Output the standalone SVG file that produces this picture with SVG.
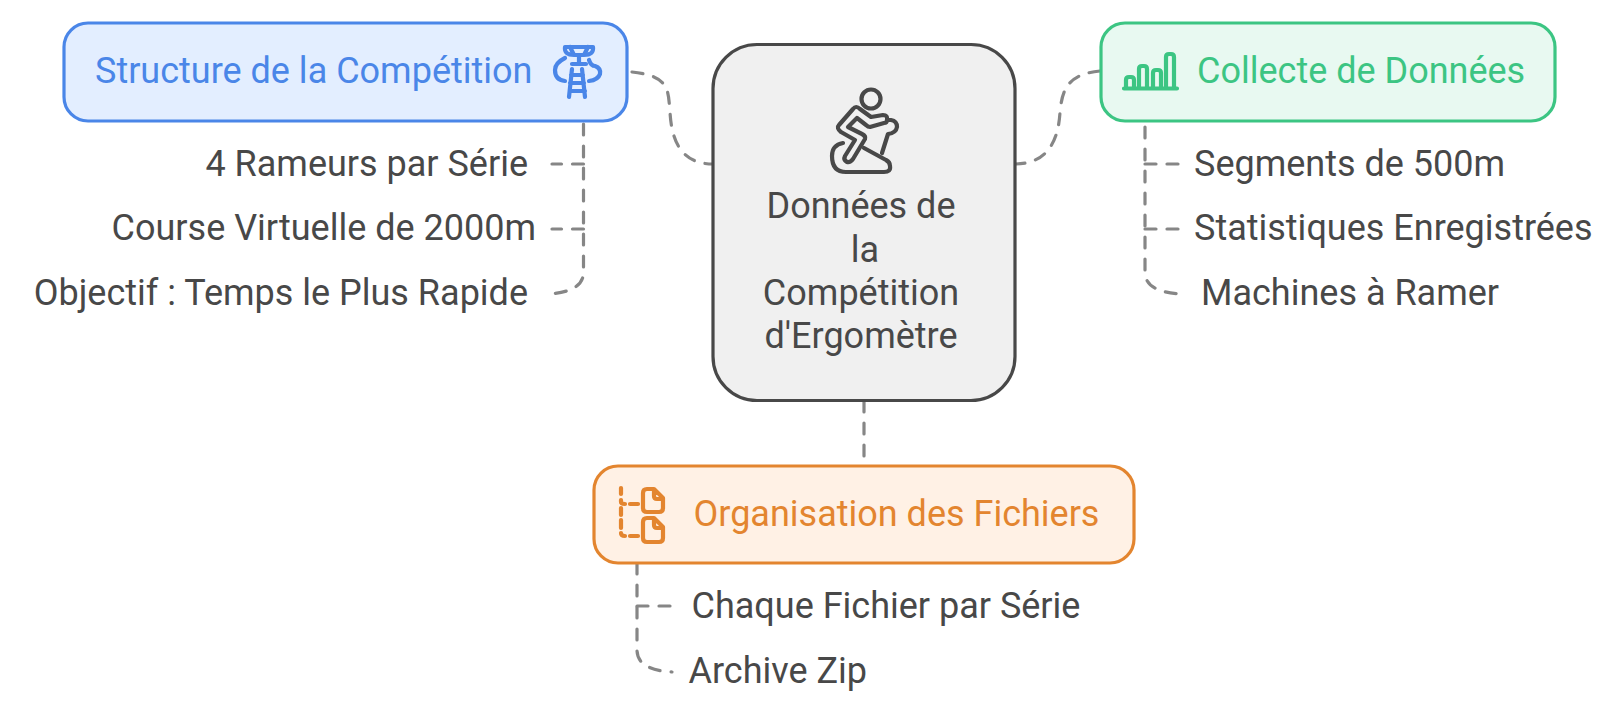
<svg xmlns="http://www.w3.org/2000/svg" width="1620" height="715" viewBox="0 0 1620 715">
<style>
text{font-family:Roboto,"Liberation Sans",sans-serif;font-size:36px;fill:#484848}
.box{stroke-width:3.2}
.c{fill:none;stroke:#868686;stroke-width:3.2;stroke-dasharray:11 11;stroke-linecap:round}
.i{fill:none;stroke-width:4.200;stroke-linecap:round;stroke-linejoin:round}
</style>
<rect width="1620" height="715" fill="#fff"/>
<g id="connectors">
<path class="c" d="M632 72C670 76 668 90 670 112C672 150 688 164 713 164"/>
<path class="c" d="M1100 71C1066 74 1062 92 1060 112C1058 150 1040 164 1015 164"/>
<path class="c" d="M864 401V458"/>
<path class="c" style="stroke-dashoffset:-3" d="M583.500 121V272Q583.500 292 548 294"/>
<path class="c" d="M583.500 164H552"/>
<path class="c" d="M583.500 229H552"/>
<path class="c" style="stroke-dashoffset:-6" d="M1145 121V272Q1145 292 1181 294"/>
<path class="c" d="M1145 164H1178"/>
<path class="c" d="M1145 229H1178"/>
<path class="c" d="M637 563V650Q637 670 672 672"/>
<path class="c" d="M637 606H670"/>
</g>
<g id="node-center">
<rect class="box" x="713" y="44.500" width="302" height="356" rx="44" fill="#f0f0f0" stroke="#484848"/>
<g class="i" stroke="#484848">
<circle cx="871" cy="99" r="9.500"/>
<path d="M853 109Q856 105 860 109L871 117L883 115Q888 115 887 120Q887 123 884 123L870 127Q868 127 866 125L857 118L848 127L862 134Q866 136 865 139L853 159Q850 163 847 162Q843 160 845 156L855 140L841 132Q836 128 839 125Z"/>
<path d="M843 143Q832 145 832 156Q832 172 846 172H884Q891 172 890 166Q890 162 886 160L864 148"/>
<path d="M887 120H891Q897 121 897 127Q896 133 888 134L882 153"/>
</g>
<text x="861" y="218" text-anchor="middle">Données de</text>
<text x="865" y="262" text-anchor="middle">la</text>
<text x="861" y="305" text-anchor="middle">Compétition</text>
<text x="861" y="348" text-anchor="middle">d'Ergomètre</text>
</g>
<g id="node-structure">
<rect class="box" x="64" y="23" width="563" height="98" rx="24" fill="#e3eeff" stroke="#4a86e8"/>
<text x="95" y="83" style="fill:#4a86e8">Structure de la Compétition</text>
<g class="i" stroke="#4a86e8">
<path d="M565 47H593M565 47Q564 55 574 55M593 47Q594 55 584 55M570 47L574 55H584L588 47M579 55V63M572 64H586"/>
<path d="M565 58Q555 63 555 70Q555 80 565 81M589 60Q591 66 595 66Q601 68 600 74Q598 80 589 81"/>
<path d="M572 69L569 97M582 69L585 97M571 75H583M570 83H584M570 91H585"/>
</g>
</g>
<g id="node-data">
<rect class="box" x="1101" y="23" width="454" height="98" rx="24" fill="#e8f9f1" stroke="#3cc583"/>
<text x="1197" y="83" style="fill:#3cc583">Collecte de Données</text>
<g class="i" stroke="#3cc583">
<path d="M1124 88.500H1177M1126 88V80Q1126 77 1129 77H1131Q1134 77 1134 80V88M1139 88V69Q1139 66 1142 66H1144Q1147 66 1147 69V88M1153 88V73Q1153 70 1156 70H1158Q1161 70 1161 73V88M1166 88V57Q1166 54 1169 54H1171Q1174 54 1174 57V88"/>
</g>
</g>
<g id="node-files">
<rect class="box" x="594" y="466" width="540" height="97" rx="24" fill="#fff1e5" stroke="#e3852f"/>
<text x="693.500" y="526" style="fill:#e3852f">Organisation des Fichiers</text>
<g class="i" stroke="#e3852f">
<path d="M621 488V494M621 500V502Q621 504 625 504M630 504H638M621 508V515M621 520V528M621 533Q621 536 625 536M630 536H638"/>
<path d="M647 489H654L663 498V508Q663 512 659 512H647Q643 512 643 508V493Q643 489 647 489ZM654 490V496Q654 499 657 499H662"/>
<path d="M647 518H654L663 527V538Q663 542 659 542H647Q643 542 643 538V522Q643 518 647 518ZM654 519V525Q654 528 657 528H662"/>
</g>
</g>
<g id="leaf-1"><text x="528" y="176" text-anchor="end">4 Rameurs par Série</text></g>
<g id="leaf-2"><text x="536" y="240" text-anchor="end">Course Virtuelle de 2000m</text></g>
<g id="leaf-3"><text x="528" y="305" text-anchor="end">Objectif : Temps le Plus Rapide</text></g>
<g id="leaf-4"><text x="1194" y="176">Segments de 500m</text></g>
<g id="leaf-5"><text x="1194" y="240">Statistiques Enregistrées</text></g>
<g id="leaf-6"><text x="1201" y="305">Machines à Ramer</text></g>
<g id="leaf-7"><text x="691.500" y="618">Chaque Fichier par Série</text></g>
<g id="leaf-8"><text x="688.500" y="683">Archive Zip</text></g>
</svg>
